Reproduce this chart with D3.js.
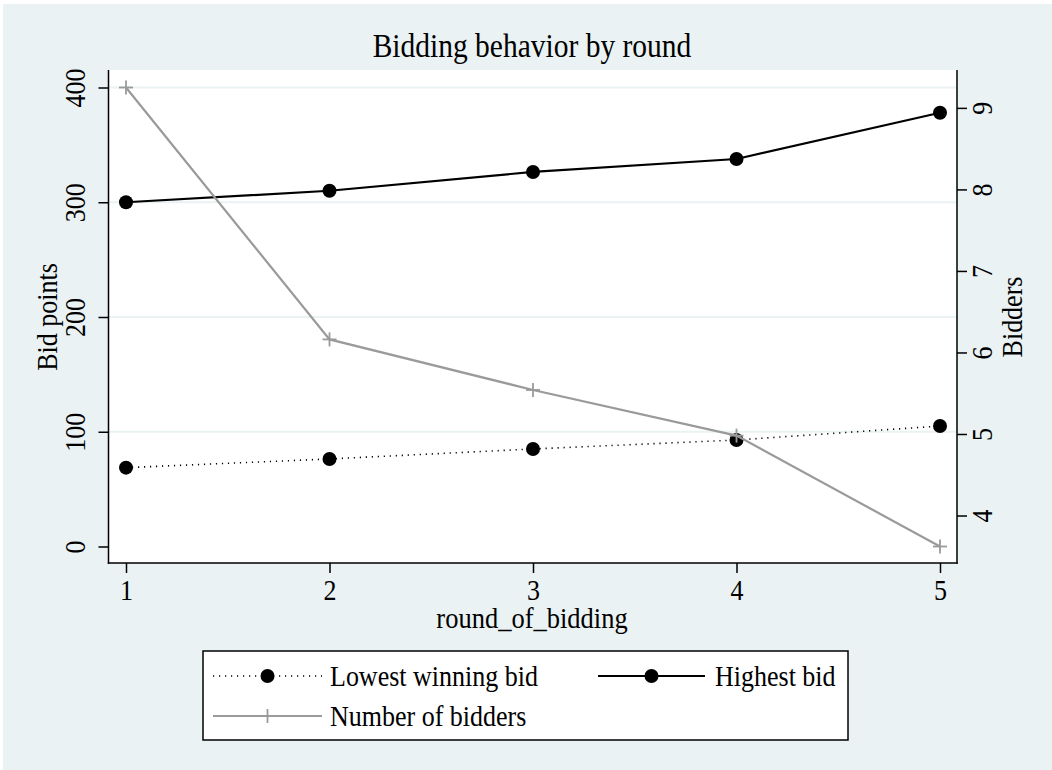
<!DOCTYPE html>
<html>
<head>
<meta charset="utf-8">
<script src="https://cdn.jsdelivr.net/npm/d3@7"></script>
<style>
  html, body { margin: 0; padding: 0; background: #ffffff; }
  svg { display: block; }
  text { font-family: "Liberation Serif", "Times New Roman", serif; fill: #000; }
</style>
</head>
<body>
<svg id="chart" width="1052" height="770"></svg>
<script>
// Rounds of bidding and the per-round summaries
const rounds = [1, 2, 3, 4, 5];
const lowestWinningBid = [68.7, 76.3, 85.0, 92.8, 105.0];
const highestBid = [300.0, 310.0, 326.4, 337.7, 378.0];
const numberOfBidders = [9.25, 6.16, 5.54, 4.98, 3.62];

const bidTicks = [0, 100, 200, 300, 400];
const bidderTicks = [4, 5, 6, 7, 8, 9];
const roundTicks = [1, 2, 3, 4, 5];

const seriesNames = ["Lowest winning bid", "Highest bid", "Number of bidders"];
const chartTitle = "Bidding behavior by round";
const xTitle = "round_of_bidding";
const yLeftTitle = "Bid points";
const yRightTitle = "Bidders";

const W = 1052, H = 770;
const bg = "#eaf2f3";
const grey = "#9a9a9a";
const stretch = 1.12;   // glyphs drawn slightly taller than wide

const plot = { left: 108.5, right: 957, top: 70, bottom: 563 };

const svg = d3.select("#chart");

// position a text element with an optional rotation and the vertical glyph stretch
function place(sel, tx, ty, rot) {
  sel.attr("x", 0).attr("y", 0)
    .attr("transform", `translate(${tx},${ty}) rotate(${rot || 0}) scale(1,${stretch})`);
  return sel;
}

// graph region background
svg.append("rect").attr("x", 3).attr("y", 4).attr("width", W - 3).attr("height", H - 4).attr("fill", bg);

// plot region
svg.append("rect")
  .attr("x", plot.left).attr("y", plot.top)
  .attr("width", plot.right - plot.left).attr("height", plot.bottom - plot.top)
  .attr("fill", "#ffffff");

const x = d3.scaleLinear().domain([1, 5]).range([126, 940]);
const yL = d3.scaleLinear().domain([0, 400]).range([546.5, 87.5]);
const yR = d3.scaleLinear().domain([d3.min(numberOfBidders), d3.max(numberOfBidders)]).range([546.5, 87.5]);

// horizontal grid lines
svg.append("g").selectAll("line")
  .data(bidTicks.filter(d => d > 0))
  .join("line")
  .attr("x1", plot.left).attr("x2", plot.right)
  .attr("y1", d => yL(d)).attr("y2", d => yL(d))
  .attr("stroke", bg).attr("stroke-width", 2);

// left axis
const gL = svg.append("g").attr("transform", `translate(${plot.left},0)`)
  .call(d3.axisLeft(yL).tickValues(bidTicks).tickSize(10).tickSizeOuter(0).tickFormat(d3.format("d")));
gL.select(".domain").remove();
gL.append("line").attr("x1", 0).attr("x2", 0).attr("y1", plot.top).attr("y2", plot.bottom + 0.75)
  .attr("stroke", "#000").attr("stroke-width", 1.5);
gL.selectAll(".tick line").attr("stroke", "#000").attr("stroke-width", 1.5);
gL.selectAll(".tick text")
  .attr("dy", "0.35em").attr("text-anchor", "middle")
  .style("font-family", "Liberation Serif").style("font-size", "26px")
  .each(function () { place(d3.select(this), -33.5, 0, -90); });

// right axis
const gR = svg.append("g").attr("transform", `translate(${plot.right},0)`)
  .call(d3.axisRight(yR).tickValues(bidderTicks).tickSize(10).tickSizeOuter(0).tickFormat(d3.format("d")));
gR.select(".domain").remove();
gR.append("line").attr("x1", 0).attr("x2", 0).attr("y1", plot.top).attr("y2", plot.bottom + 0.75)
  .attr("stroke", "#000").attr("stroke-width", 1.5);
gR.selectAll(".tick line").attr("stroke", "#000").attr("stroke-width", 1.5);
gR.selectAll(".tick text")
  .attr("dy", "0.35em").attr("text-anchor", "middle")
  .style("font-family", "Liberation Serif").style("font-size", "26px")
  .each(function () { place(d3.select(this), 25, 0, -90); });

// bottom axis
const gB = svg.append("g").attr("transform", `translate(0,${plot.bottom})`)
  .call(d3.axisBottom(x).tickValues(roundTicks).tickSize(10).tickSizeOuter(0).tickFormat(d3.format("d")));
gB.select(".domain").remove();
gB.append("line").attr("x1", plot.left - 0.75).attr("x2", plot.right + 0.75).attr("y1", 0).attr("y2", 0)
  .attr("stroke", "#000").attr("stroke-width", 1.5);
gB.selectAll(".tick line").attr("stroke", "#000").attr("stroke-width", 1.5);
gB.selectAll(".tick text").attr("dy", 0).attr("text-anchor", "middle")
  .style("font-family", "Liberation Serif").style("font-size", "26px")
  .each(function () { place(d3.select(this), 0, 37, 0); });

// titles
place(svg.append("text"), 532, 57, 0).attr("text-anchor", "middle")
  .style("font-size", "29.5px").text(chartTitle);
place(svg.append("text"), 532, 628, 0).attr("text-anchor", "middle")
  .style("font-size", "26.5px").text(xTitle);
place(svg.append("text"), 47, (yL(0) + yL(400)) / 2, -90)
  .attr("text-anchor", "middle").attr("dy", "0.35em")
  .style("font-size", "26px").text(yLeftTitle);
place(svg.append("text"), 1012, (yL(0) + yL(400)) / 2, -90)
  .attr("text-anchor", "middle").attr("dy", "0.35em")
  .style("font-size", "26px").text(yRightTitle);

// series
const lineL = d3.line().x((d, i) => x(rounds[i])).y(d => yL(d));
const lineR = d3.line().x((d, i) => x(rounds[i])).y(d => yR(d));

const plus = (g, cx, cy, s, color) => {
  g.append("line").attr("x1", cx - s).attr("x2", cx + s).attr("y1", cy).attr("y2", cy)
    .attr("stroke", color).attr("stroke-width", 1.8);
  g.append("line").attr("x1", cx).attr("x2", cx).attr("y1", cy - s).attr("y2", cy + s)
    .attr("stroke", color).attr("stroke-width", 1.8);
};

const marks = svg.append("g");
marks.append("path").datum(lowestWinningBid).attr("d", lineL)
  .attr("fill", "none").attr("stroke", "#000").attr("stroke-width", 1.6).attr("stroke-dasharray", "1.2,4.8");
marks.selectAll("circle.low").data(lowestWinningBid).join("circle").attr("class", "low")
  .attr("cx", (d, i) => x(rounds[i])).attr("cy", d => yL(d)).attr("r", 7).attr("fill", "#000");

marks.append("path").datum(highestBid).attr("d", lineL)
  .attr("fill", "none").attr("stroke", "#000").attr("stroke-width", 2.2);
marks.selectAll("circle.high").data(highestBid).join("circle").attr("class", "high")
  .attr("cx", (d, i) => x(rounds[i])).attr("cy", d => yL(d)).attr("r", 7).attr("fill", "#000");

marks.append("path").datum(numberOfBidders).attr("d", lineR)
  .attr("fill", "none").attr("stroke", grey).attr("stroke-width", 2.2);
numberOfBidders.forEach((d, i) => plus(marks, x(rounds[i]), yR(d), 7, grey));

// legend
const leg = svg.append("g");
leg.append("rect").attr("x", 203).attr("y", 651).attr("width", 645).attr("height", 89)
  .attr("fill", "#fff").attr("stroke", "#000").attr("stroke-width", 1.5);

const keyRows = [
  { x0: 213, x1: 322, y: 676, tx: 330, name: seriesNames[0], kind: "dot", stroke: "#000", dash: "1.2,4.8", w: 1.4 },
  { x0: 598, x1: 705, y: 676, tx: 715, name: seriesNames[1], kind: "dot", stroke: "#000", dash: null, w: 2.2 },
  { x0: 213, x1: 322, y: 716, tx: 330, name: seriesNames[2], kind: "plus", stroke: grey, dash: null, w: 2.2 }
];
keyRows.forEach(k => {
  const ln = leg.append("line").attr("x1", k.x0).attr("x2", k.x1).attr("y1", k.y).attr("y2", k.y)
    .attr("stroke", k.stroke).attr("stroke-width", k.w);
  if (k.dash) ln.attr("stroke-dasharray", k.dash);
  const cx = (k.x0 + k.x1) / 2;
  if (k.kind === "dot") leg.append("circle").attr("cx", cx).attr("cy", k.y).attr("r", 7).attr("fill", "#000");
  else plus(leg, cx, k.y, 7, grey);
  place(leg.append("text"), k.tx, k.y, 0).attr("dy", "0.35em")
    .style("font-size", "26px").text(k.name);
});
</script>
</body>
</html>
